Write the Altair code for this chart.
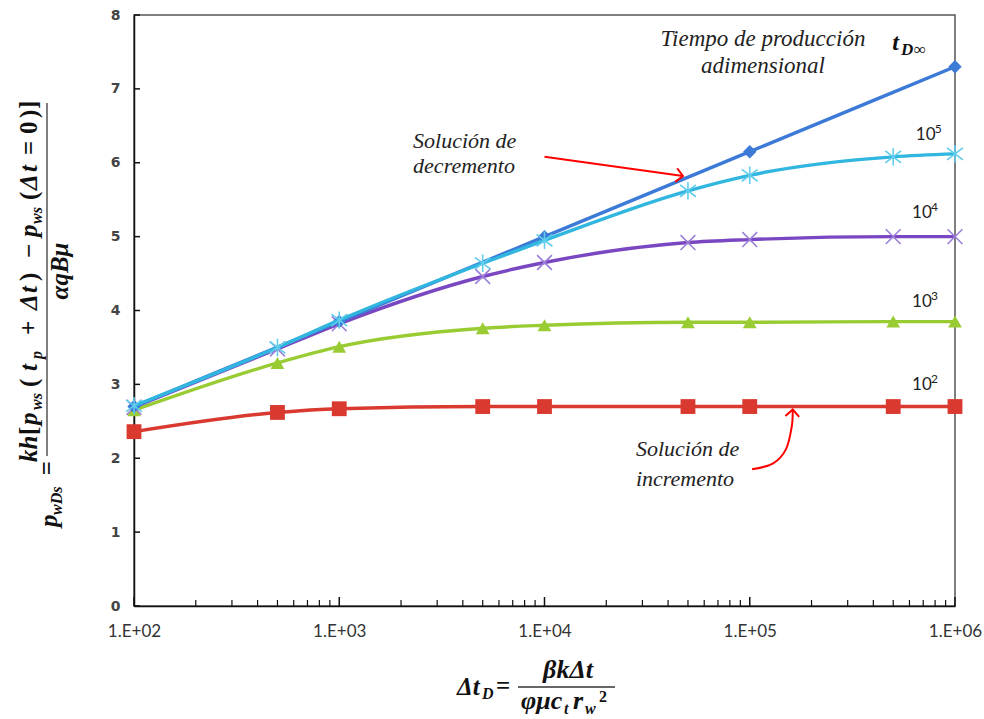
import altair as alt
import pandas as pd

# ---------------- data ----------------
dt = [100, 500, 1000, 5000, 10000, 50000, 100000, 500000, 1000000]
dt_inf = [100, 1000, 10000, 100000, 1000000]
p_inf = [2.70, 3.85, 5.00, 6.15, 7.30]
p_1e5 = [2.71, 3.50, 3.87, 4.64, 4.95, 5.62, 5.83, 6.08, 6.12]
p_1e4 = [2.69, 3.48, 3.82, 4.46, 4.65, 4.92, 4.96, 5.00, 5.00]
p_1e3 = [2.65, 3.29, 3.51, 3.76, 3.80, 3.84, 3.84, 3.85, 3.85]
p_1e2 = [2.36, 2.62, 2.67, 2.70, 2.70, 2.70, 2.70, 2.70, 2.70]

x_major = [100, 1000, 10000, 100000, 1000000]
x_minor = [m * 10 ** k for k in range(2, 6) for m in range(2, 10)]
y_ticks = [0, 1, 2, 3, 4, 5, 6, 7, 8]

# curve labels (data coordinates)
lab_x = [7.2e5, 6.9e5, 6.9e5, 6.9e5]
lab_y = [6.38, 5.32, 4.12, 2.99]
lab_exp = ["5", "4", "3", "2"]

W, H = 821, 591
X_PATH = "M-1,-1L1,1M-1,1L1,-1"
AST_PATH = "M-1,-0.75L1,0.75M-1,0.75L1,-0.75M0,-1.1L0,1.1"
CHEV = "M-1,-1L0,0L-1,1"
SERIF = "Liberation Serif"

xs = alt.Scale(type="log", domain=[100, 1000000], nice=False)
ys = alt.Scale(domain=[0, 8], nice=False)
xaxis = alt.Axis(values=x_major, labelExpr="'1.E+0' + round(log(datum.value)/LN10)",
                 ticks=False, grid=False, domainColor="#111", domainWidth=1.5,
                 labelFont="Lato", labelFontSize=17, labelColor="#333", labelFlush=False,
                 labelPadding=17, title=None)
yaxis = alt.Axis(values=y_ticks, ticks=False, grid=False, domainColor="#111", domainWidth=1.5,
                 labelFont="DejaVu Sans", labelFontSize=14, labelFontWeight="bold",
                 labelColor="#444", labelPadding=14, labelFlush=False, title=None)


def X(f="x"):
    return alt.X(f + ":Q", scale=xs, axis=xaxis)


def Y(f="y"):
    return alt.Y(f + ":Q", scale=ys, axis=yaxis)


layers = []

# inward ticks
layers.append(alt.Chart(pd.DataFrame({"v": y_ticks})).mark_rule(color="#111", strokeWidth=1.5)
              .encode(y=Y("v"), x=alt.value(0), x2=alt.value(6)))
layers.append(alt.Chart(pd.DataFrame({"v": x_major})).mark_rule(color="#111", strokeWidth=1.5)
              .encode(x=X("v"), y=alt.value(H), y2=alt.value(H - 9)))
layers.append(alt.Chart(pd.DataFrame({"v": x_minor})).mark_rule(color="#111", strokeWidth=1.2)
              .encode(x=X("v"), y=alt.value(H), y2=alt.value(H - 6)))

series = [
    (dt, p_1e2, "#D9392F", "#D9392F", "square", True, 220),
    (dt, p_1e3, "#99CC33", "#99CC33", "triangle-up", True, 190),
    (dt, p_1e4, "#7A47C2", "#9C7FD8", X_PATH, False, 220),
    (dt_inf, p_inf, "#3B7BD7", "#3B7BD7", "diamond", True, 180),
    (dt, p_1e5, "#31B6DF", "#62CCEC", AST_PATH, False, 250),
]
for xsv, ysv, lc, mc, shp, filled, sz in series:
    df = pd.DataFrame({"x": xsv, "y": ysv})
    base = alt.Chart(df)
    layers.append(base.mark_line(color=lc, strokeWidth=3.4, interpolate="monotone")
                  .encode(x=X(), y=Y()))
    if filled:
        layers.append(base.mark_point(shape=shp, filled=True, color=mc, opacity=1, size=sz)
                      .encode(x=X(), y=Y()))
    else:
        layers.append(base.mark_point(shape=shp, filled=False, color=mc, opacity=1, size=sz,
                                      strokeWidth=1.6).encode(x=X(), y=Y()))

# curve labels 10^n
lab_df = pd.DataFrame({"x": lab_x, "y": lab_y, "e": lab_exp})
layers.append(alt.Chart(lab_df).mark_text(text="10", font="Lato", fontSize=17, color="#222",
                                          align="center", baseline="middle")
              .encode(x=X(), y=Y()))
layers.append(alt.Chart(lab_df).mark_text(font="Lato", fontSize=12, color="#222",
                                          align="left", baseline="middle", dx=9, dy=-6)
              .encode(x=X(), y=Y(), text="e:N"))

# annotations in data coordinates
ann = pd.DataFrame({
    "x": [1.16e5, 1.16e5, 2290, 2290, 2.79e4, 2.79e4],
    "y": [7.58, 7.21, 6.20, 5.86, 2.03, 1.63],
    "t": ["Tiempo de producción", "adimensional", "Solución de", "decremento",
          "Solución de", "incremento"],
    "a": ["center", "center", "left", "left", "left", "left"],
})
layers.append(alt.Chart(ann[ann.a == "center"]).mark_text(
    font=SERIF, fontStyle="italic", fontSize=23, color="#222",
    align="center", baseline="alphabetic").encode(x=X(), y=Y(), text="t:N"))
layers.append(alt.Chart(ann[ann.a == "left"]).mark_text(
    font=SERIF, fontStyle="italic", fontSize=22, color="#222",
    align="left", baseline="alphabetic").encode(x=X(), y=Y(), text="t:N"))

# t_D-infinity label
layers.append(alt.Chart(pd.DataFrame({"x": [4.95e5], "y": [7.53]})).mark_text(
    text="t", font=SERIF, fontStyle="italic", fontWeight="bold", fontSize=24,
    color="#111", align="left", baseline="alphabetic").encode(x=X(), y=Y()))
layers.append(alt.Chart(pd.DataFrame({"x": [5.45e5], "y": [7.46]})).mark_text(
    text="D∞", font=SERIF, fontStyle="italic", fontWeight="bold", fontSize=17,
    color="#111", align="left", baseline="alphabetic").encode(x=X(), y=Y()))

# arrow 1 (decremento)
arr1 = pd.DataFrame({"x": [1.0e4, 4.73e4], "y": [6.08, 5.82]})
layers.append(alt.Chart(arr1).mark_line(color="#FF0000", strokeWidth=2).encode(x=X(), y=Y()))
layers.append(alt.Chart(arr1.tail(1)).mark_point(shape=CHEV, filled=False, color="#FF0000",
                                                 opacity=1, size=190, strokeWidth=2, angle=8)
              .encode(x=X(), y=Y()))
# arrow 2 (incremento), curved
arr2 = pd.DataFrame({"x": [1.026e5, 1.30e5, 1.50e5, 1.60e5, 1.62e5],
                     "y": [1.85, 1.93, 2.12, 2.42, 2.66], "o": [0, 1, 2, 3, 4]})
layers.append(alt.Chart(arr2).mark_line(color="#FF0000", strokeWidth=2, interpolate="cardinal")
              .encode(x=X(), y=Y(), order="o:Q"))
layers.append(alt.Chart(arr2.tail(1)).mark_point(shape=CHEV, filled=False, color="#FF0000",
                                                 opacity=1, size=190, strokeWidth=2, angle=274)
              .encode(x=X(), y=Y()))

# ---- axis titles as pieces (pixel positions relative to plot origin) ----
one = pd.DataFrame({"a": [0]})


def txt(s, x, y, size, angle=0, align="left", baseline="alphabetic", weight="bold", style="italic"):
    return alt.Chart(one).mark_text(text=s, font=SERIF, fontSize=size, fontWeight=weight,
                                    fontStyle=style, angle=angle, align=align, baseline=baseline,
                                    color="#111").encode(x=alt.value(x), y=alt.value(y))


OX, OY = 134, 15
MS, SS = 25, 16
# y title (rotated)
yb_main, yb_sub = 37 - OX, 42 - OX
for s, yy in [("kh", 462), ("[", 435), ("p", 425), ("(", 387), ("t", 371), ("+", 335),
              ("Δ", 310), ("t", 293), (")", 281), ("−", 258), ("p", 237), ("(", 200),
              ("Δ", 190), ("t", 172), ("=", 155), ("0", 134), (")", 118), ("]", 109)]:
    st = "normal" if s in "[()+−=0]" else "italic"
    layers.append(txt(s, yb_main, yy - OY, MS, angle=270, style=st))
for s, yy in [("ws", 410), ("p", 359), ("ws", 224)]:
    layers.append(txt(s, yb_sub, yy - OY, SS, angle=270))
layers.append(alt.Chart(one).mark_rule(color="#555", strokeWidth=1.5)
              .encode(x=alt.value(47 - OX), y=alt.value(103 - OY), y2=alt.value(456 - OY)))
layers.append(txt("αqBμ", 68 - OX, 271 - OY, MS, angle=270, align="center"))
layers.append(txt("=", 47 - OX, 468 - OY, MS, angle=270, align="center", baseline="middle",
                  style="normal"))
layers.append(txt("p", 57 - OX, 527 - OY, MS, angle=270))
layers.append(txt("wDs", 62 - OX, 515 - OY, SS, angle=270))

# x title
layers.append(txt("Δt", 457 - OX, 695 - OY, MS))
layers.append(txt("D", 482 - OX, 699 - OY, SS))
layers.append(txt("=", 496 - OX, 694 - OY, MS, style="normal"))
layers.append(alt.Chart(one).mark_rule(color="#333", strokeWidth=1.5)
              .encode(y=alt.value(687 - OY), x=alt.value(518 - OX), x2=alt.value(615 - OX)))
layers.append(txt("βkΔt", 568 - OX, 678 - OY, 26, align="center"))
layers.append(txt("φμc", 521 - OX, 709 - OY, 26))
layers.append(txt("t", 564 - OX, 714 - OY, SS))
layers.append(txt("r", 573 - OX, 709 - OY, 26))
layers.append(txt("w", 585 - OX, 714 - OY, SS))
layers.append(txt("2", 599 - OX, 702 - OY, SS, style="normal"))

chart = alt.layer(*layers).properties(
    width=W, height=H,
    padding={"left": OX, "top": OY, "right": 984 - OX - W, "bottom": 719 - OY - H},
    autosize=alt.AutoSizeParams(type="none"),
    background="white",
).configure_view(stroke="#555", strokeWidth=1.5)

chart.save("out.html", embed_options={"renderer": "svg", "actions": False})
